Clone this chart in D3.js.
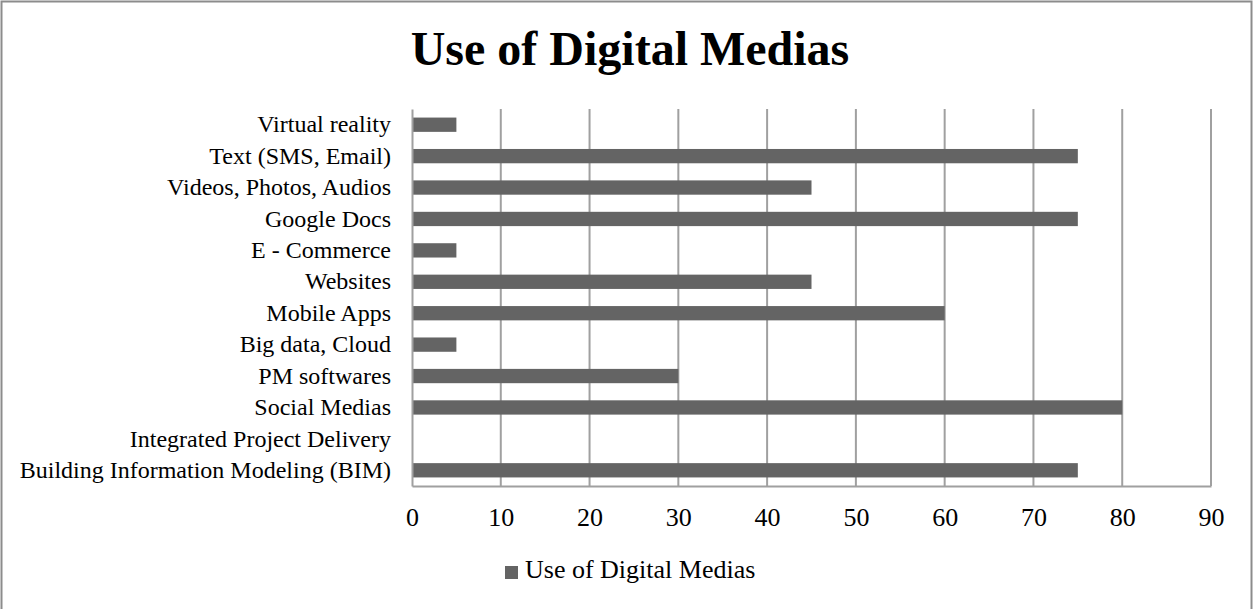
<!DOCTYPE html>
<html lang="en">
<head>
<meta charset="utf-8">
<script src="https://d3js.org/d3.v7.min.js"></script>
<style>
    body { margin: 0; background: #fff; }
    svg text { font-family: 'Liberation Serif', 'Times New Roman', serif; fill: #000; }
</style>
</head>
<body>
<script>
    var width = 1253, height = 609;

    // data (top to bottom)
    var categories = ['Virtual reality', 'Text (SMS, Email)', 'Videos, Photos, Audios', 'Google Docs',
        'E - Commerce', 'Websites', 'Mobile Apps', 'Big data, Cloud', 'PM softwares', 'Social Medias',
        'Integrated Project Delivery', 'Building Information Modeling (BIM)'];
    var values = [5, 75, 45, 75, 5, 45, 60, 5, 30, 80, 0, 75];
    var xTicks = [0, 10, 20, 30, 40, 50, 60, 70, 80, 90];
    var seriesName = 'Use of Digital Medias';

    var margin = {left: 412, right: 42, top: 109, bottom: 123};
    var barColor = '#646464', gridColor = '#a0a0a0';

    var svg = d3.select('body').append('svg').attr('width', width).attr('height', height);

    // chart frame
    svg.append('rect')
        .attr('x', 1.5).attr('y', 1.5)
        .attr('width', width - 3).attr('height', height + 5)
        .attr('fill', 'none').attr('stroke', '#8c8c8c').attr('stroke-width', 2);

    var x = d3.scaleLinear().domain([0, 90]).range([margin.left, width - margin.right]);
    var y = d3.scaleBand().domain(categories).range([margin.top, height - margin.bottom]).paddingInner(0.545).paddingOuter(0.2725);

    // vertical grid lines
    svg.append('g').selectAll('line')
        .data(xTicks.slice(1))
        .join('line')
        .attr('x1', d => x(d)).attr('x2', d => x(d))
        .attr('y1', margin.top).attr('y2', height - margin.bottom)
        .attr('stroke', gridColor).attr('stroke-width', 2);

    // bars
    svg.append('g').selectAll('rect')
        .data(values)
        .join('rect')
        .attr('x', x(0))
        .attr('y', (d, i) => y(categories[i]))
        .attr('width', d => x(d) - x(0))
        .attr('height', y.bandwidth())
        .attr('fill', barColor);

    // axes
    var xAxis = svg.append('g')
        .attr('transform', 'translate(0,' + (height - margin.bottom) + ')')
        .call(d3.axisBottom(x).tickValues(xTicks).tickSize(0).tickPadding(22));
    xAxis.select('.domain').attr('stroke', gridColor).attr('stroke-width', 2);
    xAxis.selectAll('text').style('font-size', '26px').attr('fill', '#000');

    var yAxis = svg.append('g')
        .attr('transform', 'translate(' + margin.left + ',0)')
        .call(d3.axisLeft(y).tickSize(0).tickPadding(21));
    yAxis.select('.domain').attr('stroke', gridColor).attr('stroke-width', 2);
    yAxis.selectAll('text').style('font-size', '24px').attr('fill', '#000');

    // title
    svg.append('text')
        .attr('x', 630).attr('y', 65)
        .attr('text-anchor', 'middle')
        .style('font-size', '48px').style('font-weight', 'bold')
        .text(seriesName);

    // legend
    var legend = svg.append('g').attr('transform', 'translate(505,566)');
    legend.append('rect').attr('width', 13).attr('height', 13).attr('fill', barColor);
    legend.append('text').attr('x', 20).attr('y', 12)
        .style('font-size', '26px')
        .text(seriesName);
</script>
</body>
</html>
